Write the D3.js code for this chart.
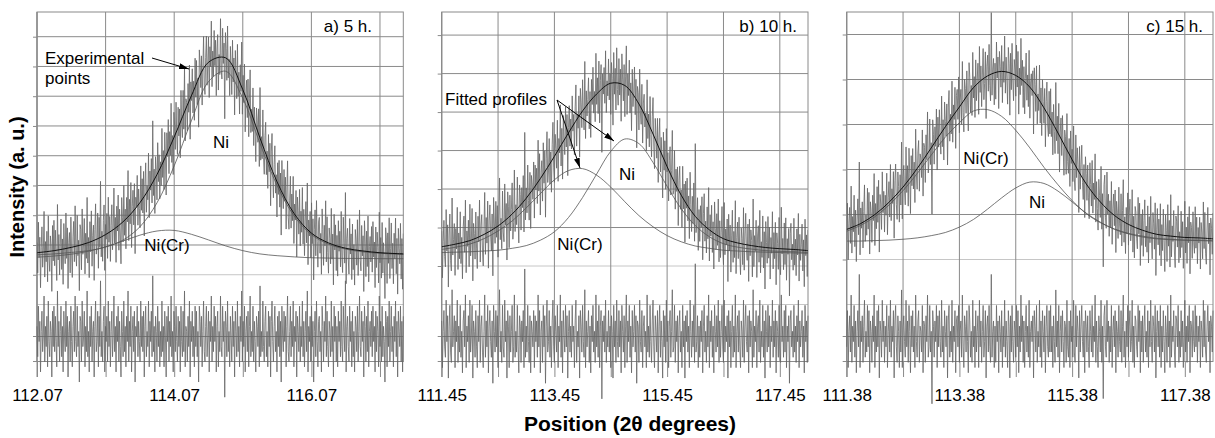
<!DOCTYPE html>
<html>
<head>
<meta charset="utf-8">
<script src="https://cdn.jsdelivr.net/npm/d3@7"></script>
<style>
  body { margin: 0; background: #fff; }
  text { font-family: "Liberation Sans", Arial, sans-serif; fill: #000; }
</style>
</head>
<body>
<svg id="chart" width="1215" height="438"></svg>
<script>
// ---- data (intensity in grid units, 1 unit = 1 horizontal gridline) ----
const panelNames = ["a) 5 h.", "b) 10 h.", "c) 15 h."];
const xStart = [112.07, 111.45, 111.38];
const xEnd = [117.41, 117.95, 117.88];
const tickLabels = [
  [112.07, 114.07, 116.07],
  [111.45, 113.45, 115.45, 117.45],
  [111.38, 113.38, 115.38, 117.38]
];
const yTop = [9.83, 7.6, 6.5];
const background = [1.52, 1.28, 1.37];

// fitted profiles, sampled every 0.25 deg from xStart
const profileStep = 0.25;
const niA   = [1.67,1.70,1.75,1.81,1.93,2.16,2.61,3.42,4.66,6.17,7.49,7.84,6.93,5.42,4.00,2.97,2.35,2.03,1.86,1.77,1.72,1.69,1.67];
const nicrA = [1.59,1.63,1.69,1.79,1.94,2.13,2.33,2.47,2.49,2.36,2.17,1.97,1.81,1.70,1.64,1.60,1.57,1.56,1.55,1.55,1.54,1.54,1.54];
const niB   = [1.35,1.36,1.37,1.39,1.41,1.46,1.53,1.67,1.89,2.26,2.78,3.39,3.98,4.30,4.18,3.69,3.07,2.49,2.05,1.76,1.58,1.49,1.44,1.40,1.38,1.37,1.35];
const nicrB = [1.43,1.49,1.57,1.71,1.91,2.17,2.51,2.88,3.24,3.48,3.53,3.36,3.05,2.67,2.31,2.02,1.79,1.63,1.52,1.46,1.41,1.39,1.37,1.36,1.35,1.34,1.33];
const niC   = [1.41,1.41,1.42,1.43,1.45,1.48,1.53,1.60,1.72,1.89,2.12,2.37,2.59,2.72,2.69,2.52,2.28,2.03,1.83,1.67,1.57,1.50,1.46,1.44,1.43,1.42,1.41];
const nicrC = [1.63,1.76,1.95,2.21,2.53,2.91,3.32,3.72,4.04,4.30,4.33,4.18,3.87,3.48,3.05,2.66,2.31,2.02,1.82,1.68,1.58,1.52,1.47,1.45,1.43,1.43,1.42];

// residuals (obs - calc) of the scans, in noise units, evenly spaced over the scan
const noiseUnit = [0.17, 0.135, 0.115];
const residA = [
  2,-4,6,-1,3,-7,1,5,-3,0,8,-5,2,-2,4,-6,7,-1,-4,3,1,-8,5,-2,6,
  -3,4,-1,-6,9,-2,3,-5,1,6,-4,2,-7,5,0,-3,7,-2,4,-8,1,3,-5,6,-1,
  -6,2,5,-3,8,-1,-4,6,-2,1,-9,4,3,-5,7,-2,0,5,-6,2,-3,9,-4,1,-7,
  4,-2,6,-5,1,3,-8,2,7,-3,-1,5,-6,4,-2,11,-4,1,-5,3,6,-7,2,-1,4,
  -5,7,-2,3,-6,1,5,-4,0,8,-3,2,-7,4,-1,6,-5,3,-2,-8,5,1,-4,7,-3,
  2,-6,4,-1,9,-5,3,-2,6,-7,1,4,-3,5,-9,2,0,6,-4,3,-1,-5,7,-2,4,
  -3,5,-8,2,6,-4,1,-2,7,-6,3,-1,5,-4,12,-3,2,-7,4,1,-5,6,-2,3,-6,
  1,-4,7,-3,2,-6,5,0,-8,4,-1,6,-5,3,-2,8,-4,1,-7,5,2,-3,6,-1,-5,
  4,-2,3,-7,6,-1,-4,5,-3,9,-6,2,1,-5,4,-2,7,-8,3,-1,5,-4,2,-6,6,
  -2,5,-4,1,-9,6,3,-2,4,-6,1,7,-3,-5,2,6,-4,0,5,-7,3,-1,8,-5,2,
  -3,6,-1,4,-7,2,5,-6,1,-3,8,-2,-4,6,-1,3,-12,5,2,-4,7,-3,1,-6,4,
  0,-5,6,-2,3,-8,5,1,-4,7,-3,2,-6,4,-1,9,-5,3,-2,6,-7,1,4,-3,5,
  -6,2,8,-4,1,-3,6,-5,3,-1,-7,4,2,-2,5,-6,10,-4,1,-3,7,-2,-5,3,6,
  -4,1,-6,5,-2,4,-8,3,7,-1,-5,2,6,-3,1,-7,4,-2,5,-4,3,-9,6,0,-3,
  5,-1,4,-6,2,8,-3,-5,1,6,-4,3,-2,7,-6,2,-1,5,-8,4,1,-3,6,-5,2,
  -2,7,-4,3,-6,1,5,-3,9,-7,2,-1,4,-5,6,-2,3,-9,1,5,-4,7,-1,-6,3,
  4,-3,1,-7,6,2,-5,3,-1,8,-4,5,-2,-6,3,1,-4,7,-3,2,-8,6,-1,4,-5,
  2,-6,5,-1,3,-4,7,-2,-5,6,1,-3,11,-7,2,4,-2,-5,6,-1,3,-6,5,-4,1,
  -7,4,2,-3,6,-5,1,8,-2,-4,5,-1,3,-8,6,2,-5,4,-3,7,-6,1,3,-2,5,
  -4,6,-1,2,-7,5,-3,4,1,-6,8,-2,3,-5,6,-4,2,-1,-9,5,3,-6,4,-2,7,
  -5,1,6,-3,2,-6,4,-1,7,-4,3,-8,5,1,-2,6,-5,3,-7,4];
const residB = [
  3,-6,1,5,-2,-4,7,-1,4,-8,2,6,-3,-5,9,-2,1,4,-6,3,-1,7,-5,2,-3,
  6,-4,1,-7,3,5,-2,8,-6,2,-1,4,-5,7,-3,0,6,-8,3,1,-4,5,-2,-6,4,
  -1,7,-5,2,4,-3,-6,1,8,-4,3,-2,6,-7,2,5,-1,-4,3,-9,6,1,-3,5,-2,
  4,-6,2,9,-3,1,-5,6,-2,-4,7,-1,3,-8,5,2,-6,4,-3,1,6,-5,-2,8,-4,
  1,-3,6,-2,-7,4,2,-5,3,-1,5,-6,13,-4,2,-3,6,-1,-5,4,-7,3,1,-2,5,
  -6,4,-1,3,-4,8,-2,5,-7,1,3,-5,6,-2,4,-9,2,7,-3,-1,5,-4,2,-6,3,
  7,-2,-5,4,1,-3,6,-6,2,-1,8,-4,3,-7,5,0,-3,6,-2,4,-8,1,5,-3,2,
  -4,6,-1,2,-6,3,7,-5,1,-2,4,-8,5,2,-3,6,-1,-4,9,-6,3,-2,1,5,-5,
  2,-7,4,-1,6,-3,1,-5,8,-2,3,-4,6,-6,2,5,-12,3,-1,4,-3,7,-5,1,-2,
  5,-3,2,-6,4,1,-8,6,-2,3,-5,7,-1,-4,5,-2,3,-7,6,1,-3,4,-6,2,8,
  -5,3,-1,6,-4,2,-7,5,-2,1,6,-3,4,-9,3,2,-5,7,-1,-3,5,-6,2,4,-2,
  1,-6,8,-3,2,-4,6,-1,-5,3,7,-2,-6,4,1,-3,5,-7,2,6,-4,3,-1,-8,5,
  -2,4,-5,7,-1,3,-6,2,5,-4,1,9,-3,-2,6,-5,3,-1,4,-7,2,5,-3,1,-6,
  6,-2,3,-8,4,-1,5,-3,2,-6,7,1,-4,3,-2,6,-5,14,-3,-1,4,-6,2,-4,3,
  -1,5,-7,2,6,-3,1,-5,4,-2,8,-6,3,-1,5,-4,2,-7,6,1,-3,4,-2,7,-5,
  3,-4,1,6,-2,-5,7,-3,2,-1,4,-8,5,-2,3,-6,1,6,-4,2,-3,8,-6,1,4,
  -3,5,-2,-6,3,1,-4,7,-5,2,6,-1,-3,4,-7,5,-2,3,1,-6,9,-4,2,-1,5,
  -6,2,4,-3,7,-5,1,-2,6,-4,3,-8,5,1,-3,6,-2,4,-6,2,-1,7,-4,3,-2,
  5,-7,3,1,-4,6,-2,-5,8,-1,2,-4,5,-3,6,-6,2,-1,4,-9,3,5,-2,1,-4,
  6,-3,2,-5,4,-1,7,-6,3,-2,1,5,-4,2,-7,6,-1,3,-5,4];
const residC = [
  -2,5,-6,1,4,-3,8,-5,2,-1,6,-4,3,-7,1,5,-2,12,-6,3,-1,4,-5,2,7,
  -4,1,-3,6,-2,5,-7,3,1,-5,4,-1,8,-6,2,-3,5,-2,6,-8,3,1,-4,7,-1,
  3,-5,2,-2,6,-6,1,4,-3,7,-4,2,-1,5,-8,3,6,-2,-5,4,1,-6,3,-3,9,
  -6,2,4,-1,-4,7,-2,3,-5,6,1,-7,4,-2,5,-3,2,-6,8,-1,-4,3,5,-5,2,
  1,-3,6,-7,3,2,-5,4,-1,8,-4,-2,6,-3,1,-13,5,2,-4,3,-1,6,-6,4,-2,
  5,-1,-4,7,-3,2,-6,5,1,-2,4,-8,3,6,-4,1,-3,7,-5,2,-1,5,-7,3,4,
  -2,6,-5,1,3,-4,8,-2,-6,4,2,-3,5,-1,-7,6,3,-4,1,-5,7,-2,2,-6,5,
  -3,1,4,-6,7,-2,3,-5,1,6,-4,-1,5,-8,2,4,-3,6,-2,-5,12,-4,1,3,-6,
  2,-5,6,-1,3,-7,4,1,-3,5,-6,2,-2,7,-4,3,-1,-6,5,2,-8,4,-3,6,-1,
  -5,3,1,-4,6,-2,5,-7,2,-3,8,-1,4,-5,3,-6,1,6,-3,2,-4,7,-6,1,3,
  -1,4,-8,5,2,-3,6,-5,1,-2,7,-4,3,-6,5,1,-3,4,-7,2,6,-2,-4,5,-3,
  6,-3,2,-6,4,-1,-5,9,-2,3,-4,6,-7,1,4,-3,5,-1,-6,3,2,-5,7,-2,-4,
  3,-6,5,-1,2,-4,7,-3,-5,6,-2,4,1,-8,5,-3,2,6,-1,-4,3,-7,5,2,-3,
  4,-2,-6,5,1,-3,6,-4,2,-1,8,-5,3,-2,-6,4,1,-3,7,-5,2,-12,4,6,-2,
  -4,7,-1,3,-5,2,-3,6,-6,1,4,-2,5,-7,3,1,-4,6,-1,-3,5,-5,2,8,-4,
  1,-6,3,-2,6,-4,2,5,-3,-1,7,-5,2,-6,4,3,-2,-4,6,-1,5,-7,3,-3,4,
  -5,2,6,-3,1,-4,5,-6,3,-2,7,-1,-5,4,2,-3,6,-8,1,5,-2,3,-4,6,-6,
  2,-3,5,-1,-7,4,1,-5,6,-2,3,-6,8,-4,2,-1,5,-3,-6,4,3,-2,6,-5,1,
  -4,5,-2,3,-6,1,7,-3,2,-5,4,-1,6,-7,3,2,-4,5,-1,-3,6,-2,4,-5,2,
  -1,4,-6,3,1,-4,7,-2,5,-3,-5,2,6,-1,3,-7,4,2,-3,5];

// ---- layout ----
const svg = d3.select("#chart");
const plotTop = 12, zeroY = 304.5, residZeroY = 336.5, boxBottom = 361.5, tickBottom = 377;
const panelLeft = [37, 441.7, 846.7];
const panelRight = [403.3, 808, 1213];
const labelRight = [372, 797, 1203];

const defs = svg.append("defs");
defs.append("marker")
  .attr("id", "arrow").attr("viewBox", "0 0 10 6")
  .attr("refX", 10).attr("refY", 3)
  .attr("markerWidth", 10).attr("markerHeight", 6)
  .attr("markerUnits", "userSpaceOnUse").attr("orient", "auto")
  .append("path").attr("d", "M0,0L10,3L0,6Z").attr("fill", "#000");

const panels = [
  { ni: niA, nicr: nicrA, resid: residA },
  { ni: niB, nicr: nicrB, resid: residB },
  { ni: niC, nicr: nicrC, resid: residC }
];

panels.forEach((p, i) => {
  const x = d3.scaleLinear().domain([xStart[i], xEnd[i]]).range([panelLeft[i], panelRight[i]]);
  const y = d3.scaleLinear().domain([0, yTop[i]]).range([zeroY, plotTop]);
  const unitPx = zeroY - y(1);
  const yRes = d3.scaleLinear().domain([0, 1]).range([residZeroY, residZeroY - unitPx]);
  const x0 = panelLeft[i], x1 = panelRight[i];
  const g = svg.append("g");

  defs.append("clipPath").attr("id", "clip" + i)
    .append("rect").attr("x", x0).attr("y", plotTop)
    .attr("width", x1 - x0).attr("height", 420);

  // horizontal gridlines
  const levels = d3.range(0, Math.floor(yTop[i]) + 1);
  g.selectAll(null).data(levels).join("line")
    .attr("x1", x0).attr("x2", x1)
    .attr("y1", d => y(d)).attr("y2", d => y(d))
    .attr("stroke", d => d <= 1 ? "#c6c6c6" : "#8a8a8a").attr("stroke-width", 1);
  g.selectAll(null).data([residZeroY, boxBottom]).join("line")
    .attr("x1", x0).attr("x2", x1).attr("y1", d => d).attr("y2", d => d)
    .attr("stroke", "#8a8a8a");

  // vertical gridlines, one per degree
  const degTicks = d3.range(Math.ceil(xEnd[i] - xStart[i])).map(k => +(xStart[i] + k).toFixed(2));
  g.selectAll(null).data(degTicks).join("line")
    .attr("x1", d => x(d)).attr("x2", d => x(d))
    .attr("y1", plotTop).attr("y2", boxBottom)
    .attr("stroke", "#8a8a8a");

  // frame
  g.append("rect").attr("x", x0).attr("y", plotTop)
    .attr("width", x1 - x0).attr("height", boxBottom - plotTop)
    .attr("fill", "none").attr("stroke", "#8a8a8a");

  // x axis with long ticks below the frame
  const xAxis = d3.axisBottom(x)
    .tickValues(degTicks)
    .tickSize(tickBottom - boxBottom)
    .tickPadding(12)
    .tickFormat(d => tickLabels[i].some(t => Math.abs(t - d) < 1e-6) ? d.toFixed(2) : "");
  const ax = g.append("g").attr("transform", `translate(0,${boxBottom})`).call(xAxis);
  ax.select(".domain").remove();
  ax.selectAll(".tick line").attr("stroke", "#8a8a8a");
  ax.selectAll(".tick text").attr("font-size", 17).attr("font-family", "Liberation Sans, Arial, sans-serif").attr("fill", "#000");

  // y axis (no labels, small outer ticks)
  const yAxis = d3.axisLeft(y).tickValues(levels.slice(1)).tickSize(4).tickFormat("");
  const ay = g.append("g").attr("transform", `translate(${x0},0)`).call(yAxis);
  ay.select(".domain").remove();
  ay.selectAll(".tick line").attr("stroke", "#8a8a8a");
  g.append("line").attr("x1", x0).attr("x2", x0).attr("y1", plotTop).attr("y2", tickBottom)
    .attr("stroke", "#8a8a8a");
  g.selectAll(null).data([residZeroY, boxBottom]).join("line")
    .attr("x1", x0 - 4).attr("x2", x0).attr("y1", d => d).attr("y2", d => d)
    .attr("stroke", "#8a8a8a");

  // fitted profiles
  const profX = p.ni.map((_, k) => xStart[i] + k * profileStep);
  const total = p.ni.map((v, k) => v + p.nicr[k] - background[i]);
  const fitLine = d3.line().x((d, k) => x(profX[k])).y(d => y(d)).curve(d3.curveCatmullRom);
  const fitAt = d3.scaleLinear().domain(profX).range(total);

  // scan points: fitted total plus residual
  const scanStep = (xEnd[i] - xStart[i]) / (p.resid.length - 1);
  const scanX = p.resid.map((_, k) => xStart[i] + k * scanStep);
  const obs = p.resid.map((r, k) => fitAt(scanX[k]) + r * noiseUnit[i]);
  const scanLine = d3.line().x((d, k) => x(scanX[k])).y(d => y(d));
  const resLine = d3.line().x((d, k) => x(scanX[k])).y(d => yRes(d * noiseUnit[i]));

  const clipped = g.append("g").attr("clip-path", `url(#clip${i})`);
  clipped.append("path").datum(obs).attr("d", scanLine)
    .attr("fill", "none").attr("stroke", "#666").attr("stroke-width", 0.8);
  [p.ni, p.nicr].forEach(arr => {
    clipped.append("path").datum(arr).attr("d", fitLine)
      .attr("fill", "none").attr("stroke", "#555").attr("stroke-width", 0.8);
  });
  clipped.append("path").datum(total).attr("d", fitLine)
    .attr("fill", "none").attr("stroke", "#111").attr("stroke-width", 1);

  g.append("path").datum(p.resid).attr("d", resLine)
    .attr("fill", "none").attr("stroke", "#666").attr("stroke-width", 0.8);

  // panel label
  g.append("text").attr("x", labelRight[i]).attr("y", 32)
    .attr("text-anchor", "end").attr("font-size", 17).text(panelNames[i]);
});

// ---- annotations ----
const ann = svg.append("g").attr("font-size", 17);
ann.append("text").attr("x", 45).attr("y", 64).text("Experimental");
ann.append("text").attr("x", 45).attr("y", 84).text("points");
ann.append("text").attr("x", 221).attr("y", 148).attr("text-anchor", "middle").text("Ni");
ann.append("text").attr("x", 167).attr("y", 251).attr("text-anchor", "middle").text("Ni(Cr)");
ann.append("text").attr("x", 445).attr("y", 105).text("Fitted profiles");
ann.append("text").attr("x", 627).attr("y", 180).attr("text-anchor", "middle").text("Ni");
ann.append("text").attr("x", 580).attr("y", 250).attr("text-anchor", "middle").text("Ni(Cr)");
ann.append("text").attr("x", 986).attr("y", 164).attr("text-anchor", "middle").text("Ni(Cr)");
ann.append("text").attr("x", 1037).attr("y", 208).attr("text-anchor", "middle").text("Ni");

const arrows = [
  [152, 58, 189, 69],
  [557, 100, 614, 141],
  [557, 100, 580, 168]
];
ann.selectAll("line.arrow").data(arrows).join("line").attr("class", "arrow")
  .attr("x1", d => d[0]).attr("y1", d => d[1]).attr("x2", d => d[2]).attr("y2", d => d[3])
  .attr("stroke", "#000").attr("stroke-width", 1).attr("marker-end", "url(#arrow)");

// axis titles
svg.append("text").attr("x", 630).attr("y", 431).attr("text-anchor", "middle")
  .attr("font-size", 21).attr("font-weight", "bold").text("Position (2θ degrees)");
svg.append("text").attr("transform", "translate(24,187) rotate(-90)").attr("text-anchor", "middle")
  .attr("font-size", 20).attr("font-weight", "bold").text("Intensity (a. u.)");
</script>
</body>
</html>
